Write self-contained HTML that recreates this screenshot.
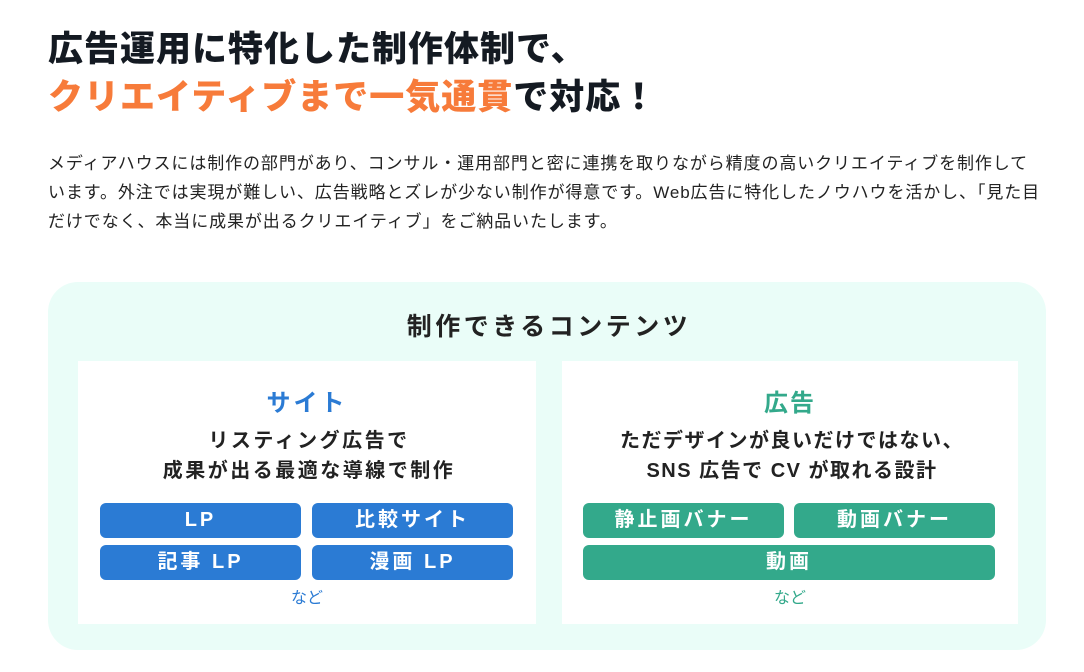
<!DOCTYPE html>
<html><head><meta charset="utf-8"><style>
*{margin:0;padding:0;box-sizing:border-box}
body{width:1084px;height:672px;background:#fff;position:relative;overflow:hidden;font-family:"Liberation Sans","Noto Sans CJK JP",sans-serif;color:#222}
.a{position:absolute;white-space:nowrap}
h1{position:absolute;left:48px;font-size:35px;font-weight:900;color:#141a22;white-space:nowrap;line-height:1;letter-spacing:1px}
.p{left:48px;font-size:17px;line-height:29px;top:149px;color:#222;letter-spacing:0.9px}
.box{position:absolute;left:48px;top:282px;width:998px;height:368px;background:#eafdf8;border-radius:30px}
.card{position:absolute;top:361px;height:263px;background:#fff}
.c{text-align:center;font-weight:700}
.btn{position:absolute;height:35px;border-radius:6px;color:#fff;font-weight:700;font-size:20px;line-height:35px;text-align:center;letter-spacing:3px}
.b{background:#2b7bd4}.g{background:#33a98b}
</style></head><body>
<h1 style="top:32px">広告運用に特化した制作体制で、</h1>
<h1 style="top:80px"><span style="color:#f77b3a">クリエイティブまで一気通貫</span>で対応！</h1>
<div class="a p">メディアハウスには制作の部門があり、コンサル・運用部門と密に連携を取りながら精度の高いクリエイティブを制作して<br>います。外注では実現が難しい、広告戦略とズレが少ない制作が得意です。Web広告に特化したノウハウを活かし、「見た目<br>だけでなく、本当に成果が出るクリエイティブ」をご納品いたします。</div>
<div class="box"></div>
<div class="a c" style="left:0;width:1098px;top:307px;font-size:25px;letter-spacing:3.5px;color:#222">制作できるコンテンツ</div>
<div class="card" style="left:78px;width:458px"></div>
<div class="card" style="left:562px;width:456px"></div>
<div class="a c" style="left:78px;width:458px;top:383px;font-size:24px;color:#2b7bd4;letter-spacing:3px">サイト</div>
<div class="a c" style="left:80px;width:458px;top:426px;font-size:20px;line-height:30px;letter-spacing:2.5px">リスティング広告で<br>成果が出る最適な導線で制作</div>
<div class="btn b" style="left:100px;top:503px;width:201px">LP</div>
<div class="btn b" style="left:312px;top:503px;width:201px">比較サイト</div>
<div class="btn b" style="left:100px;top:545px;width:201px">記事 LP</div>
<div class="btn b" style="left:312px;top:545px;width:201px">漫画 LP</div>
<div class="a c" style="left:78px;width:458px;top:584px;font-size:16px;font-weight:400;color:#2b7bd4">など</div>
<div class="a c" style="left:562px;width:456px;top:383px;font-size:24px;color:#33a98b;letter-spacing:2px">広告</div>
<div class="a c" style="left:564px;width:456px;top:426px;font-size:20px;line-height:30px;letter-spacing:1.5px">ただデザインが良いだけではない、<br>SNS 広告で CV が取れる設計</div>
<div class="btn g" style="left:583px;top:503px;width:201px">静止画バナー</div>
<div class="btn g" style="left:794px;top:503px;width:201px">動画バナー</div>
<div class="btn g" style="left:583px;top:545px;width:412px">動画</div>
<div class="a c" style="left:562px;width:456px;top:584px;font-size:16px;font-weight:400;color:#33a98b">など</div>
</body></html>
